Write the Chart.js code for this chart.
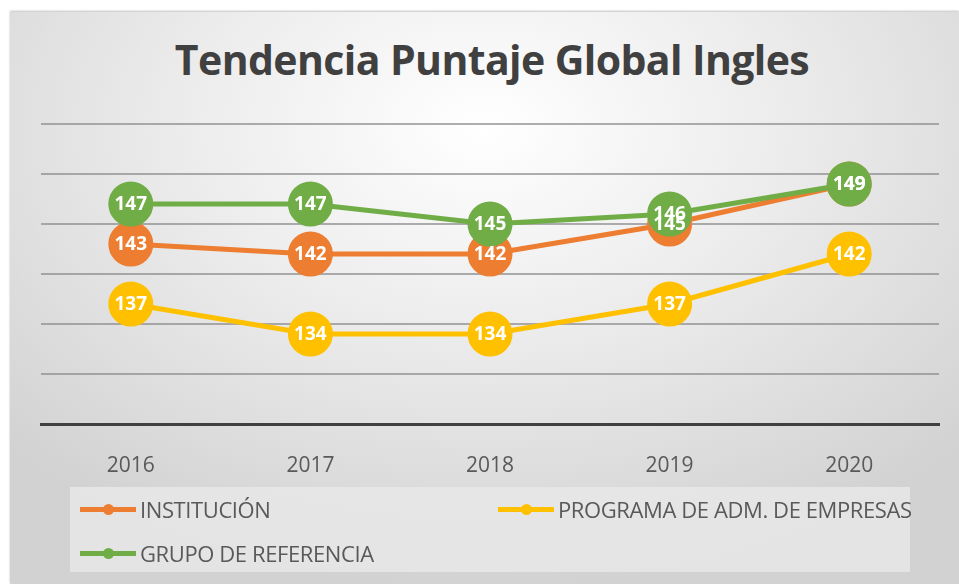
<!DOCTYPE html>
<html>
<head>
<meta charset="utf-8">
<script src="https://cdn.jsdelivr.net/npm/chart.js@4/dist/chart.umd.min.js"></script>
<style>
  html, body { margin: 0; padding: 0; background: #fff; }
  #wrap { position: relative; width: 959px; height: 584px; overflow: hidden; }
  #box {
    position: absolute; left: 10px; top: 12px; width: 949px; height: 572px;
    background: radial-gradient(ellipse 70% 80% at 50% 20%, #ffffff 0%, #ececec 45%, #d2d2d2 100%);
    box-shadow: 0 -1px 2px rgba(0,0,0,0.25);
  }
  #title {
    position: absolute; left: 0; top: 31px; width: 984px; text-align: center;
    font-family: "Open Sans", sans-serif; font-weight: bold; font-size: 41px;
    color: #404040; letter-spacing: -0.6px;
  }
  #legend {
    position: absolute; left: 70px; top: 487px; width: 840px; height: 85px;
    background: rgba(232,232,232,0.85);
    font-family: "Open Sans", sans-serif; font-size: 22px; color: #595959;
    letter-spacing: -0.4px; white-space: nowrap;
  }
  .item { position: absolute; display: flex; align-items: center; }
  .mark { position: relative; width: 56px; height: 5px; margin-right: 4px; }
  .mark span { position: absolute; left: 23px; top: -3px; width: 11px; height: 11px; border-radius: 50%; }
  canvas { position: absolute; left: 0; top: 0; }
</style>
</head>
<body>
<div id="wrap">
  <div id="box"></div>
  <div id="title">Tendencia Puntaje Global Ingles</div>
  <canvas id="chart" width="959" height="584"></canvas>
  <div id="legend"></div>
</div>
<script>
const years = ['2016', '2017', '2018', '2019', '2020'];
const institucion = [143, 142, 142, 145, 149];
const programa = [137, 134, 134, 137, 142];
const grupo = [147, 147, 145, 146, 149];
const seriesNames = ['INSTITUCIÓN', 'PROGRAMA DE ADM. DE EMPRESAS', 'GRUPO DE REFERENCIA'];
const colors = ['#ED7D31', '#FFC000', '#70AD47'];

// legend (html)
const legendPos = [[10, 7], [428, 7], [10, 51]];
const legendEl = document.getElementById('legend');
seriesNames.forEach((name, i) => {
  const it = document.createElement('div');
  it.className = 'item';
  it.style.left = legendPos[i][0] + 'px';
  it.style.top = legendPos[i][1] + 'px';
  it.innerHTML = '<div class="mark" style="background:' + colors[i] + '"><span style="background:' + colors[i] + '"></span></div><div>' + name + '</div>';
  legendEl.appendChild(it);
});

// circles with value text
const valueLabels = {
  id: 'valueLabels',
  afterDatasetsDraw(chart) {
    const c = chart.ctx;
    c.save();
    c.font = 'bold 19px "Open Sans", sans-serif';
    c.fillStyle = '#ffffff';
    c.textAlign = 'center';
    c.textBaseline = 'middle';
    [2, 0, 1].forEach(di => {
      const meta = chart.getDatasetMeta(di);
      meta.data.forEach((pt, j) => {
        c.fillText(chart.data.datasets[di].data[j], pt.x, pt.y + 1);
      });
    });
    c.restore();
  }
};

function ds(label, data, color, order) {
  return {
    label, data, order,
    borderColor: color,
    backgroundColor: color,
    pointBackgroundColor: color,
    pointBorderColor: color,
    borderWidth: 5,
    pointRadius: 20,
    pointHoverRadius: 20,
    tension: 0,
    clip: false
  };
}

new Chart(document.getElementById('chart').getContext('2d'), {
  type: 'line',
  data: {
    labels: years,
    datasets: [
      ds(seriesNames[0], institucion, colors[0], 1),
      ds(seriesNames[1], programa, colors[1], 2),
      ds(seriesNames[2], grupo, colors[2], 0)
    ]
  },
  options: {
    responsive: false,
    animation: false,
    layout: { autoPadding: false, padding: { top: 124, left: 41, right: 20, bottom: 0 } },
    plugins: { legend: { display: false }, title: { display: false }, tooltip: { enabled: false } },
    scales: {
      x: {
        offset: true,
        grid: { display: false },
        border: { color: '#404040', width: 3 },
        ticks: { color: '#595959', padding: 21, font: { size: 21, family: '"Open Sans", sans-serif' } },
        afterFit(scale) { scale.height = 160; scale.paddingLeft = 0; scale.paddingRight = 0; }
      },
      y: {
        min: 125, max: 155,
        ticks: { stepSize: 5, display: false },
        border: { display: false },
        grid: {
          drawTicks: false,
          color: ctx => ctx.tick.value === 125 ? 'rgba(0,0,0,0)' : 'rgba(140,140,140,0.7)',
          lineWidth: 2
        },
        afterFit(scale) { scale.width = 0; }
      }
    }
  },
  plugins: [valueLabels]
});
</script>
</body>
</html>
